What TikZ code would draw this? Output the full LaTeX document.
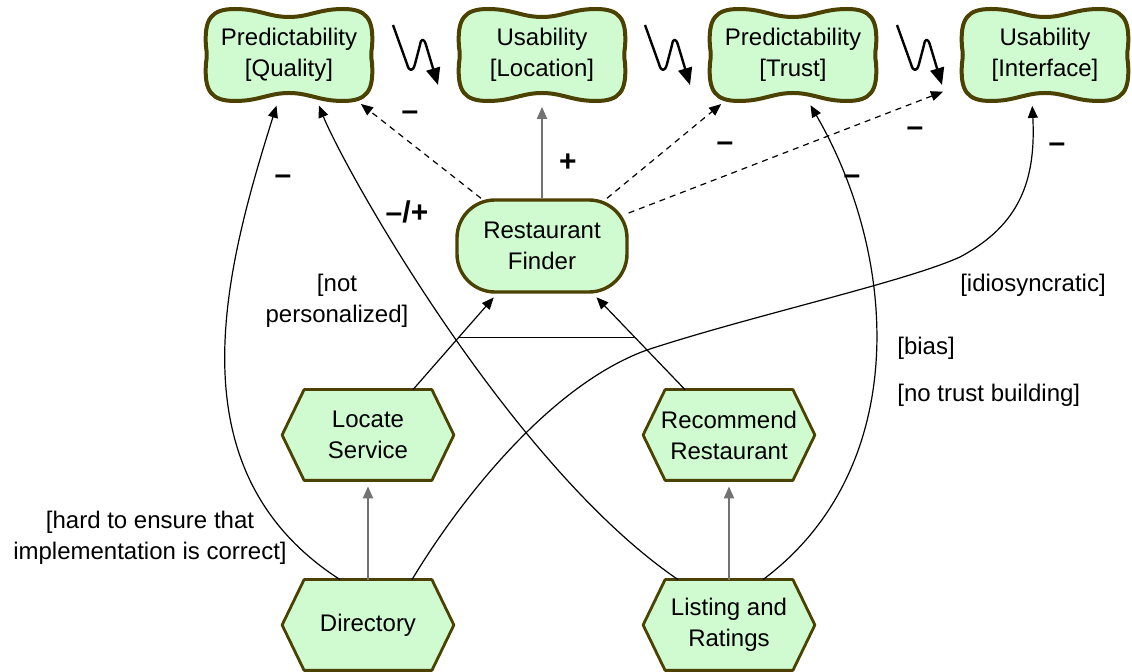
\documentclass[tikz,border=0pt]{standalone}
\usepackage{fontspec}
\setmainfont{Liberation Sans}
\usetikzlibrary{arrows.meta,backgrounds}

\definecolor{goalfill}{RGB}{208,250,208}
\definecolor{goaledge}{RGB}{75,65,0}
\definecolor{linkgray}{RGB}{115,115,115}

\tikzset{
  >={Triangle[length=6pt,width=5pt]},
  softgoal/.style={minimum width=83pt, minimum height=45.5pt, inner sep=0pt, align=center},
  goal/.style={draw=goaledge, line width=1.7pt, fill=goalfill, rounded corners=19pt,
    minimum width=85pt, minimum height=46pt, inner sep=0pt, align=center},
  task/.style={minimum width=85.5pt, minimum height=45pt, inner sep=0pt, align=center},
  outline/.style={draw=goaledge, fill=goalfill, line join=round},
  contrib/.style={->, line width=0.6pt, shorten >=2.5pt},
  sidelink/.style={contrib, dash pattern=on 3pt off 2.5pt},
  mainlink/.style={->, draw=linkgray, line width=1pt, shorten >=3pt},
  sign/.style={font=\fontsize{15}{15}\selectfont\bfseries, inner sep=0pt},
  note/.style={align=center, inner sep=0pt},
  zigzag/.style={->, >={Triangle[length=8.5pt,width=7pt]}, line width=1.2pt, line join=round}
}

\begin{document}
\begin{tikzpicture}[x=0.5pt, y=-0.5pt, font=\fontsize{12}{15.5}\selectfont]
        \useasboundingbox (0,0) rectangle (1132,672);

        % Define the softgoals
        \node[softgoal] (pq) at (289,55) {Predictability\\{}[Quality]};
        \node[softgoal] (ul) at (542,55) {Usability\\{}[Location]};
        \node[softgoal] (pt) at (793,55) {Predictability\\{}[Trust]};
        \node[softgoal] (ui) at (1045,55) {Usability\\{}[Interface]};

        % Define the goal and the tasks
        \node[goal] (rf) at (542,246) {Restaurant\\Finder};
        \node[task] (ls) at (368,435) {Locate\\Service};
        \node[task] (rr) at (729,435) {Recommend\\Restaurant};
        \node[task] (dir) at (368,625) {Directory};
        \node[task] (lr) at (729,625) {Listing and\\Ratings};

        % Draw the outlines behind the texts
        \begin{scope}[on background layer]
            \foreach \n in {pq,ul,pt,ui}
                \filldraw[outline, line width=2pt, shift={(\n.center)}]
                    (-41.5pt,4pt) .. controls (-42.5pt,18pt) and (-39pt,23pt) .. (-27pt,23pt)
                    .. controls (-15pt,23pt) and (-10pt,19pt) .. (0pt,19pt)
                    .. controls (10pt,19pt) and (15pt,23pt) .. (27pt,23pt)
                    .. controls (39pt,23pt) and (42.5pt,18pt) .. (41.5pt,4pt)
                    .. controls (41pt,1pt) and (41pt,-1pt) .. (41.5pt,-4pt)
                    .. controls (42.5pt,-18pt) and (39pt,-23pt) .. (27pt,-23pt)
                    .. controls (15pt,-23pt) and (10pt,-19pt) .. (0pt,-19pt)
                    .. controls (-10pt,-19pt) and (-15pt,-23pt) .. (-27pt,-23pt)
                    .. controls (-39pt,-23pt) and (-42.5pt,-18pt) .. (-41.5pt,-4pt)
                    .. controls (-41pt,-1pt) and (-41pt,1pt) .. (-41.5pt,4pt) -- cycle;
            \foreach \n in {ls,rr,dir,lr}
                \filldraw[outline, line width=1.4pt]
                    (\n.west) -- ([xshift=11pt]\n.north west) -- ([xshift=-11pt]\n.north east)
                    -- (\n.east) -- ([xshift=-11pt]\n.south east) -- ([xshift=11pt]\n.south west) -- cycle;
        \end{scope}

        % Trade-off marks between the softgoals
        \foreach \x in {393,645,897}
            \draw[zigzag] (\x,25) -- ({\x+14},64) .. controls ({\x+16},72) and ({\x+20},72) .. ({\x+22},64)
                -- ({\x+27},45) .. controls ({\x+28},38) and ({\x+31},38) .. ({\x+33},45) -- ({\x+45},85);

        % Decomposition of the goal
        \draw[mainlink] (dir.north) -- (ls.south);
        \draw[mainlink] (lr.north) -- (rr.south);
        \draw[contrib] ([xshift=22.5pt]ls.north) -- coordinate[pos=0.54] (andl) ([xshift=-22.5pt]rf.south);
        \draw[contrib] ([xshift=-22pt]rr.north) -- coordinate[pos=0.54] (andr) ([xshift=25.5pt]rf.south);
        \draw[line width=0.6pt] (andl) -- (andr);

        % Contributions to the softgoals
        \draw[mainlink] (rf.north) -- (ul.south);
        \draw[sidelink] ([xshift=-30.5pt]rf.north) -- ([xshift=34pt]pq.south);
        \draw[sidelink] ([xshift=32.5pt]rf.north) -- ([xshift=-34pt]pt.south);
        \draw[sidelink] ([yshift=16.5pt]rf.east) -- ([xshift=-7pt,yshift=5.5pt]ui.south west);
        \draw[contrib] ([xshift=-14pt]dir.north) .. controls (170,470) and (225,270) .. ([xshift=-5.5pt]pq.south);
        \draw[contrib] ([xshift=-25.5pt]lr.north) .. controls (510,465) and (345,170) .. ([xshift=14pt]pq.south);
        \draw[contrib] ([xshift=22pt]dir.north) .. controls (460,500) and (550,385) .. (647,350)
            .. controls (750,316) and (905,282) .. (960,257)
            .. controls (1020,225) and (1036,180) .. ([xshift=-6.5pt]ui.south);
        \draw[contrib] ([xshift=17pt]lr.north) .. controls (910,470) and (900,260) .. ([xshift=7.5pt]pt.south);

        % Signs of the contributions
        \node[sign] (s1) at (283,180) {--};
        \node[sign] (s2) at (407,212) {--/+};
        \node[sign] (s3) at (410,116) {--};
        \node[sign] (s4) at (568,163) {+};
        \node[sign] (s5) at (725,147) {--};
        \node[sign] (s6) at (915,132) {--};
        \node[sign] (s7) at (852,180) {--};
        \node[sign] (s8) at (1057,148) {--};

        % Arguments
        \node[note] (n1) at (337,301) {[not\\personalized]};
        \node[note] (n2) at (150,538) {[hard to ensure that\\implementation is correct]};
        \node[note] (n3) at (1033,285) {[idiosyncratic]};
        \node[note, anchor=west] (n4) at (897,348) {[bias]};
        \node[note, anchor=west] (n5) at (897,395) {[no trust building]};
    \end{tikzpicture}
\end{document}
